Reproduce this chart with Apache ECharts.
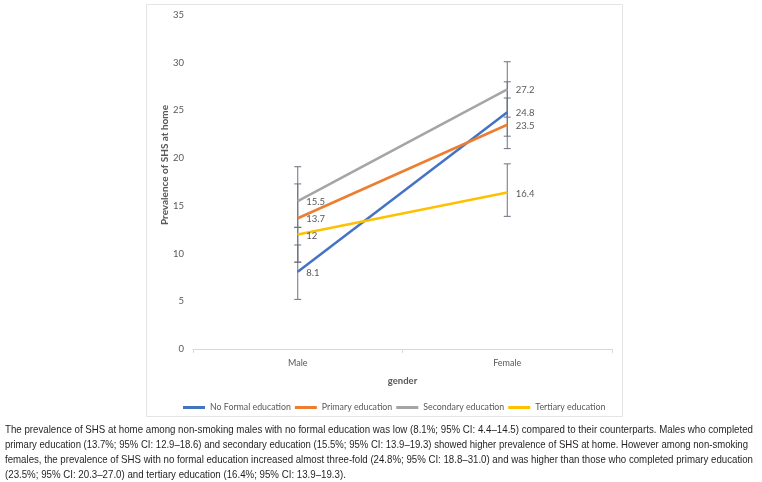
<!DOCTYPE html>
<html>
<head>
<meta charset="utf-8">
<script src="https://cdn.jsdelivr.net/npm/echarts@6/dist/echarts.min.js"></script>
<style>
  html, body { margin: 0; padding: 0; background: #fff; }
  #main { width: 762px; height: 482px; }
</style>
</head>
<body>
<div id="main"></div>
<script>
// categories and series
var genders = ['Male', 'Female'];
var seriesNames = ['No Formal education', 'Primary education', 'Secondary education', 'Tertiary education'];
var noFormal = [8.1, 24.8];
var primary = [13.7, 23.5];
var secondary = [15.5, 27.2];
var tertiary = [12, 16.4];
// error bar ends [low, high] per category
var noFormalErr = [[5.2, 10.9], [22.3, 28.0]];
var primaryErr = [[9.1, 17.3], [21.0, 26.3]];
var secondaryErr = [[12.75, 19.1], [24.3, 30.1]];
var tertiaryErr = [[9.1, 12.75], [13.9, 19.4]];
var yTicks = [0, 5, 10, 15, 20, 25, 30, 35];

var caption = [
  'The prevalence of SHS at home among non-smoking males with no formal education was low (8.1%; 95% CI: 4.4\u201314.5) compared to their counterparts. Males who completed',
  'primary education (13.7%; 95% CI: 12.9\u201318.6) and secondary education (15.5%; 95% CI: 13.9\u201319.3) showed higher prevalence of SHS at home. However among non-smoking',
  'females, the prevalence of SHS with no formal education increased almost three-fold (24.8%; 95% CI: 18.8\u201331.0) and was higher than those who completed primary education',
  '(23.5%; 95% CI: 20.3\u201327.0) and tertiary education (16.4%; 95% CI: 13.9\u201319.3).'
];
// justified widths of the caption lines in the picture (last line is not stretched)
var captionWidths = [748, 743, 748, 0];

var colors = ['#4472C4', '#ED7D31', '#A5A5A5', '#FFC000'];
var allValues = [noFormal, primary, secondary, tertiary];
var allErr = [noFormalErr, primaryErr, secondaryErr, tertiaryErr];

var chart = echarts.init(document.getElementById('main'));

var series = [];
var errData = [];
allErr.forEach(function (e) {
  e.forEach(function (pair, i) {
    errData.push([i, pair[0], pair[1]]);
  });
});
series.push({
  type: 'custom',
  name: 'err',
  z: 1,
  silent: true,
  data: errData,
  renderItem: function (params, api) {
    var lo = api.coord([api.value(0), api.value(1)]);
    var hi = api.coord([api.value(0), api.value(2)]);
    var w = 3.5;
    var st = { stroke: '#6b7380', lineWidth: 1 };
    return {
      type: 'group',
      children: [
        { type: 'line', shape: { x1: lo[0], y1: lo[1], x2: hi[0], y2: hi[1] }, style: st },
        { type: 'line', shape: { x1: lo[0] - w, y1: lo[1], x2: lo[0] + w, y2: lo[1] }, style: st },
        { type: 'line', shape: { x1: hi[0] - w, y1: hi[1], x2: hi[0] + w, y2: hi[1] }, style: st }
      ]
    };
  }
});
seriesNames.forEach(function (n, k) {
  series.push({
    type: 'line',
    name: n,
    z: 3,
    data: allValues[k],
    symbol: 'circle',
    symbolSize: 1,
    lineStyle: { width: 2.5, color: colors[k] },
    itemStyle: { color: colors[k] },
    label: {
      show: true,
      position: 'right',
      distance: 8,
      offset: [0, 1],
      color: '#595959',
      fontSize: 9.5,
      fontFamily: 'Lato'
    }
  });
});

var graphics = [
  {
    type: 'rect',
    shape: { x: 146.5, y: 4.5, width: 476, height: 412 },
    style: { fill: 'none', stroke: '#e4e4e4', lineWidth: 1 },
    silent: true
  },
  {
    type: 'text',
    x: 165,
    y: 165,
    rotation: Math.PI / 2,
    style: {
      text: 'Prevalence of SHS at home',
      fill: '#595959',
      font: 'bold 10px Lato',
      align: 'center',
      verticalAlign: 'middle'
    }
  }
];

// squeeze caption lines horizontally like the narrow font in the picture
var capFont = '11.5px "Liberation Sans Narrow", "Liberation Sans", sans-serif';
var ctx = document.createElement('canvas').getContext('2d');
ctx.font = capFont;
var firstScale = captionWidths[0] / ctx.measureText(caption[0]).width;
caption.forEach(function (line, i) {
  var s = captionWidths[i] ? captionWidths[i] / ctx.measureText(line).width : firstScale;
  graphics.push({
    type: 'text',
    x: 5,
    y: 430 + i * 15,
    scaleX: s,
    style: {
      text: line,
      fill: '#231f20',
      font: capFont,
      verticalAlign: 'middle'
    }
  });
});

chart.setOption({
  animation: false,
  color: colors,
  grid: { left: 193, right: 150, top: 15, bottom: 133 },
  legend: {
    data: seriesNames,
    left: 178,
    top: 398,
    icon: 'rect',
    itemWidth: 22,
    itemHeight: 3,
    itemGap: 4,
    textStyle: { color: '#595959', fontSize: 8.8, fontFamily: 'Lato' }
  },
  xAxis: {
    type: 'category',
    data: genders,
    name: 'gender',
    nameLocation: 'middle',
    nameGap: 27,
    nameTextStyle: { color: '#595959', fontWeight: 'bold', fontSize: 9.5, fontFamily: 'Lato' },
    axisLine: { lineStyle: { color: '#d9d9d9' } },
    axisTick: { show: true, length: 4, lineStyle: { color: '#d9d9d9' } },
    axisLabel: { color: '#595959', fontSize: 9, fontFamily: 'Lato', margin: 10 }
  },
  yAxis: {
    type: 'value',
    min: yTicks[0],
    max: yTicks[yTicks.length - 1],
    interval: 5,
    axisLine: { show: false },
    axisTick: { show: false },
    splitLine: { show: false },
    axisLabel: { color: '#595959', fontSize: 9.5, fontFamily: 'Lato', margin: 9 }
  },
  graphic: graphics,
  series: series
});
</script>
</body>
</html>
